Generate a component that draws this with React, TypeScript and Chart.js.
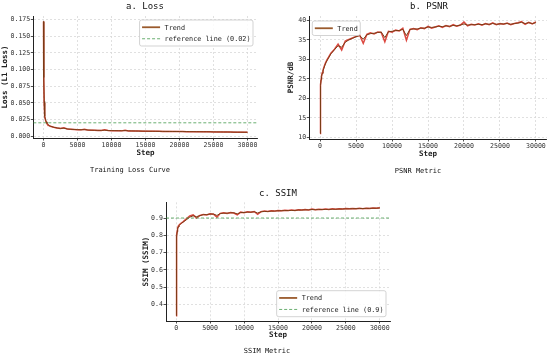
import React, { useEffect, useRef } from "react";
import { Chart, registerables } from "chart.js";

Chart.register(...registerables);

// ---------- data ----------
const STEPS = [0, 25, 50, 100, 150, 200, 300, 400, 500, 650, 800, 1000,
  1500, 2000, 2500, 3000, 3500, 4000, 4500, 5000, 5500, 6000,
  6500, 7000, 7500, 8000, 8500, 9000, 9500, 10000, 10500, 11000,
  11500, 12000, 12500, 13000, 13500, 14000, 14500, 15000, 15500, 16000,
  16500, 17000, 17500, 18000, 18500, 19000, 19500, 20000, 20500, 21000,
  21500, 22000, 22500, 23000, 23500, 24000, 24500, 25000, 25500, 26000,
  26500, 27000, 27500, 28000, 28500, 29000, 29500, 30000];

const LOSS_RAW = [0.172, 0.125, 0.085, 0.05, 0.036, 0.029, 0.024, 0.021, 0.019, 0.017, 0.0158, 0.0148,
  0.0132, 0.0122, 0.0114, 0.0125, 0.0106, 0.0102, 0.0099, 0.0096, 0.0094, 0.0103,
  0.0091, 0.0089, 0.0088, 0.0086, 0.0085, 0.0094, 0.0083, 0.0082, 0.0081, 0.0080,
  0.0079, 0.0089, 0.0078, 0.0077, 0.0076, 0.0076, 0.0075, 0.0074, 0.0074, 0.0073,
  0.0072, 0.0072, 0.0071, 0.0071, 0.0070, 0.0070, 0.0069, 0.0068, 0.0068, 0.0067,
  0.0067, 0.0066, 0.0066, 0.0065, 0.0065, 0.0064, 0.0064, 0.0063, 0.0063, 0.0062,
  0.0062, 0.0061, 0.0061, 0.0060, 0.0060, 0.0059, 0.0059, 0.0058];
const LOSS_TREND = [0.172, 0.128, 0.088, 0.052, 0.037, 0.030, 0.0245, 0.0215, 0.0195, 0.0175, 0.016, 0.015,
  0.0133, 0.0123, 0.0116, 0.0119, 0.0108, 0.0103, 0.0100, 0.0097, 0.0095, 0.0098,
  0.0092, 0.0090, 0.0088, 0.0087, 0.0086, 0.0089, 0.0084, 0.0083, 0.0082, 0.0081,
  0.0080, 0.0084, 0.0079, 0.0078, 0.0077, 0.0076, 0.0076, 0.0075, 0.0074, 0.0074,
  0.0073, 0.0072, 0.0072, 0.0071, 0.0071, 0.0070, 0.0070, 0.0069, 0.0068, 0.0068,
  0.0067, 0.0067, 0.0066, 0.0066, 0.0065, 0.0065, 0.0064, 0.0064, 0.0063, 0.0063,
  0.0062, 0.0062, 0.0061, 0.0061, 0.0060, 0.0060, 0.0059, 0.0059];

const PSNR_RAW = [11.0, 16.0, 20.0, 23.5, 25.0, 25.8, 26.6, 27.2, 27.8, 28.6, 29.3, 30.0,
  31.6, 32.6, 33.9, 32.4, 34.7, 35.1, 35.5, 35.9, 36.2, 34.1,
  36.4, 36.8, 36.5, 37.0, 36.9, 34.5, 37.2, 37.0, 37.5, 37.3,
  38.0, 34.9, 37.7, 37.9, 37.6, 38.1, 37.9, 38.5, 38.0, 38.3,
  38.6, 38.2, 38.7, 38.4, 38.9, 38.5, 38.8, 39.6, 38.6, 39.0,
  38.8, 39.1, 38.8, 39.2, 38.9, 39.4, 38.9, 39.2, 39.0, 39.3,
  38.9, 39.2, 39.4, 39.7, 39.0, 39.5, 39.1, 39.6];
const PSNR_TREND = [11.0, 15.8, 19.8, 23.3, 24.8, 25.6, 26.4, 27.0, 27.6, 28.4, 29.1, 29.8,
  31.4, 32.5, 33.5, 33.1, 34.4, 35.0, 35.4, 35.8, 36.1, 35.2,
  36.3, 36.6, 36.7, 36.9, 37.0, 35.6, 37.1, 37.2, 37.4, 37.4,
  37.7, 36.1, 37.7, 37.8, 37.8, 38.0, 38.0, 38.3, 38.2, 38.3,
  38.5, 38.4, 38.6, 38.5, 38.7, 38.6, 38.8, 39.1, 38.8, 38.9,
  38.9, 39.0, 38.9, 39.1, 39.0, 39.2, 39.0, 39.1, 39.1, 39.2,
  39.0, 39.2, 39.3, 39.5, 39.2, 39.4, 39.2, 39.4];

const SSIM_RAW = [0.335, 0.60, 0.74, 0.80, 0.825, 0.84, 0.852, 0.858, 0.862, 0.868, 0.872, 0.878,
  0.895, 0.912, 0.918, 0.900, 0.915, 0.921, 0.918, 0.925, 0.922, 0.905,
  0.927, 0.930, 0.926, 0.932, 0.929, 0.918, 0.934, 0.931, 0.936, 0.933,
  0.938, 0.922, 0.937, 0.940, 0.938, 0.942, 0.940, 0.944, 0.942, 0.945,
  0.943, 0.946, 0.944, 0.948, 0.946, 0.949, 0.947, 0.952, 0.948, 0.951,
  0.949, 0.952, 0.950, 0.953, 0.951, 0.954, 0.952, 0.955, 0.953, 0.955,
  0.953, 0.956, 0.954, 0.957, 0.955, 0.958, 0.956, 0.959];
const SSIM_TREND = [0.335, 0.58, 0.72, 0.79, 0.82, 0.835, 0.848, 0.855, 0.86, 0.866, 0.87, 0.876,
  0.890, 0.905, 0.913, 0.908, 0.914, 0.919, 0.920, 0.923, 0.923, 0.915,
  0.926, 0.928, 0.928, 0.930, 0.930, 0.924, 0.932, 0.932, 0.934, 0.934,
  0.936, 0.929, 0.936, 0.938, 0.938, 0.940, 0.940, 0.942, 0.942, 0.943,
  0.943, 0.944, 0.944, 0.946, 0.946, 0.947, 0.947, 0.949, 0.948, 0.949,
  0.949, 0.950, 0.950, 0.951, 0.951, 0.952, 0.952, 0.953, 0.953, 0.954,
  0.954, 0.955, 0.955, 0.956, 0.956, 0.957, 0.957, 0.958];

const X_TICKS = [0, 5000, 10000, 15000, 20000, 25000, 30000];
const LOSS_TICKS = [0, 0.025, 0.05, 0.075, 0.1, 0.125, 0.15, 0.175];
const PSNR_TICKS = [10, 15, 20, 25, 30, 35, 40];
const SSIM_TICKS = [0.4, 0.5, 0.6, 0.7, 0.8, 0.9];
const LOSS_REF = 0.02;
const SSIM_REF = 0.9;
const X_MIN = -1500;
const X_MAX = 31500;

// ---------- styles ----------
const MONO = '"DejaVu Sans Mono", "Liberation Mono", monospace';
const RAW_COLOR = "rgba(214,40,30,0.85)";
const TREND_COLOR = "#7a3d16";
const REF_COLOR = "rgba(60,150,70,0.85)";
const GRID_COLOR = "#d9d9d9";
const AXIS_COLOR = "#222";
const TEXT_COLOR = "#222";
const FIG_W = 550;
const FIG_H = 356;
const AXIS_TITLE_SIZE = 7.5;
const TICK_SIZE = 6.6;

const PANELS: any[] = [
  {
    id: "loss", title: "a. Loss", caption: "Training Loss Curve",
    titleAt: [145, 6], captionAt: [130, 170],
    area: { left: 33.3, top: 16, right: 257.7, bottom: 138 },
    yLabel: "Loss (L1 Loss)", yLabelX: 4.8, xLabelY: 152.7,
    yRange: [-0.0028, 0.1803], yTicks: LOSS_TICKS, yDigits: 3,
    raw: LOSS_RAW, trend: LOSS_TREND, ref: LOSS_REF, refLabel: "reference line (0.02)",
    legend: { corner: "ur", dx: 4.7, dy: 4 },
  },
  {
    id: "psnr", title: "b. PSNR", caption: "PSNR Metric",
    titleAt: [429, 6], captionAt: [418, 171],
    area: { left: 309.3, top: 16, right: 546.7, bottom: 139 },
    yLabel: "PSNR/dB", yLabelX: 291.2, xLabelY: 154,
    yRange: [9.57, 41.13], yTicks: PSNR_TICKS, yDigits: 0,
    raw: PSNR_RAW, trend: PSNR_TREND, ref: null, refLabel: "",
    legend: { corner: "ul", dx: 3, dy: 5 },
  },
  {
    id: "ssim", title: "c. SSIM", caption: "SSIM Metric",
    titleAt: [278, 193], captionAt: [267, 351],
    area: { left: 166, top: 202.3, right: 390, bottom: 321 },
    yLabel: "SSIM (SSIM)", yLabelX: 145.8, xLabelY: 335,
    yRange: [0.304, 0.991], yTicks: SSIM_TICKS, yDigits: 1,
    raw: SSIM_RAW, trend: SSIM_TREND, ref: SSIM_REF, refLabel: "reference line (0.9)",
    legend: { corner: "lr", dx: 4, dy: 4.3 },
  },
];

// ---------- matplotlib-like boxed legend inside the axes ----------
const boxLegend = {
  id: "boxLegend",
  afterDatasetsDraw(chart: any, _args: any, opts: any) {
    const { ctx, chartArea } = chart;
    const items = chart.data.datasets.filter((d: any) => d.showInLegend);
    if (!items.length) return;
    ctx.save();
    ctx.font = `6.8px ${MONO}`;
    const lineLen = 18, gap = 4.5, padX = 2.5, padY = 1.5, rowH = 11.5;
    const textW = Math.max(...items.map((d: any) => ctx.measureText(d.label).width));
    const w = padX + lineLen + gap + textW + padX;
    const h = padY * 2 + rowH * items.length;
    let x = chartArea.left + opts.dx;
    let y = chartArea.top + opts.dy;
    if (opts.corner === "ur" || opts.corner === "lr") x = chartArea.right - opts.dx - w;
    if (opts.corner === "lr" || opts.corner === "ll") y = chartArea.bottom - opts.dy - h;
    ctx.beginPath();
    if (ctx.roundRect) ctx.roundRect(x, y, w, h, 2);
    else ctx.rect(x, y, w, h);
    ctx.fillStyle = "rgba(255,255,255,0.85)";
    ctx.fill();
    ctx.lineWidth = 0.8;
    ctx.strokeStyle = "#c8c8c8";
    ctx.stroke();
    items.forEach((d: any, i: number) => {
      const cy = y + padY + rowH * (i + 0.5);
      ctx.beginPath();
      ctx.setLineDash(d.borderDash || []);
      ctx.strokeStyle = d.legendColor || d.borderColor;
      ctx.lineWidth = d.legendWidth || d.borderWidth;
      ctx.moveTo(x + padX, cy);
      ctx.lineTo(x + padX + lineLen, cy);
      ctx.stroke();
      ctx.setLineDash([]);
      ctx.fillStyle = TEXT_COLOR;
      ctx.textBaseline = "middle";
      ctx.textAlign = "left";
      ctx.fillText(d.label, x + padX + lineLen + gap, cy + 0.5);
    });
    ctx.restore();
  },
};

function PanelChart({ p }: { p: any }) {
  const ref = useRef<HTMLCanvasElement>(null);
  useEffect(() => {
    if (!ref.current) return;
    const axisFont = { family: MONO, size: AXIS_TITLE_SIZE, weight: "bold" as const, lineHeight: 1.2 };
    const lh = AXIS_TITLE_SIZE * 1.2;
    const scaleLeft = p.yLabelX - lh / 2;
    const yAxisW = p.area.left - scaleLeft;
    const xAxisH = p.xLabelY + lh / 2 - p.area.bottom;
    const pts = (vals: number[]) => STEPS.map((s, i) => ({ x: s, y: vals[i] }));
    const datasets: any[] = [
      {
        label: "raw", data: pts(p.raw), borderColor: RAW_COLOR, borderWidth: 1.5,
        pointRadius: 0, showInLegend: false, order: 3,
      },
      {
        label: "Trend", data: pts(p.trend), borderColor: TREND_COLOR, borderWidth: 1,
        pointRadius: 0, showInLegend: true, legendWidth: 1.8, legendColor: "#9a5a2c", order: 2,
      },
    ];
    if (p.ref != null) {
      datasets.push({
        label: p.refLabel, data: [{ x: X_MIN, y: p.ref }, { x: X_MAX, y: p.ref }],
        borderColor: REF_COLOR, borderDash: [3, 2], borderWidth: 0.9,
        pointRadius: 0, showInLegend: true, order: 1,
      });
    }
    const tickFont = { family: MONO, size: TICK_SIZE };
    const chart = new Chart(ref.current, {
      type: "line",
      data: { datasets },
      plugins: [boxLegend],
      options: {
        animation: false,
        responsive: false,
        maintainAspectRatio: false,
        devicePixelRatio: 1,
        events: [],
        layout: {
          padding: {
            left: scaleLeft,
            top: p.area.top,
            right: FIG_W - p.area.right,
            bottom: FIG_H - (p.area.bottom + xAxisH),
          },
        },
        elements: { line: { tension: 0 } },
        plugins: {
          legend: { display: false },
          tooltip: { enabled: false },
          title: { display: false },
          boxLegend: p.legend,
        } as any,
        scales: {
          x: {
            type: "linear",
            bounds: "data",
            min: X_MIN,
            max: X_MAX,
            afterBuildTicks: (s: any) => { s.ticks = X_TICKS.map((v) => ({ value: v })); },
            afterFit: (s: any) => { s.height = xAxisH; },
            ticks: {
              font: tickFont, color: "#333", padding: 0.5, maxRotation: 0, autoSkip: false,
              callback: (v: any) => String(v),
            },
            grid: { color: GRID_COLOR, lineWidth: 0.8, tickLength: 2.5, tickColor: AXIS_COLOR, tickWidth: 0.8 },
            border: { color: AXIS_COLOR, width: 1, dash: [2, 2] },
            title: { display: true, text: "Step", font: axisFont, color: TEXT_COLOR, padding: 0 },
          },
          y: {
            type: "linear",
            bounds: "data",
            min: p.yRange[0],
            max: p.yRange[1],
            afterBuildTicks: (s: any) => { s.ticks = p.yTicks.map((v: number) => ({ value: v })); },
            afterFit: (s: any) => { s.width = yAxisW; },
            ticks: {
              font: tickFont, color: "#333", padding: 0.5, autoSkip: false,
              callback: (v: any) => Number(v).toFixed(p.yDigits),
            },
            grid: { color: GRID_COLOR, lineWidth: 0.8, tickLength: 2.5, tickColor: AXIS_COLOR, tickWidth: 0.8 },
            border: { color: AXIS_COLOR, width: 1, dash: [2, 2] },
            title: { display: true, text: p.yLabel, font: axisFont, color: TEXT_COLOR, padding: 0 },
          },
        },
      } as any,
    });
    return () => chart.destroy();
  }, [p]);
  return (
    <canvas
      ref={ref}
      width={FIG_W}
      height={FIG_H}
      style={{ position: "absolute", left: 0, top: 0, width: FIG_W, height: FIG_H }}
    />
  );
}

export default function App() {
  return (
    <div
      style={{
        position: "fixed", left: 0, top: 0, width: FIG_W, height: FIG_H,
        background: "#fff", overflow: "hidden",
      }}
    >
      {PANELS.map((p) => (
        <PanelChart key={p.id} p={p} />
      ))}
      {PANELS.map((p) => (
        <React.Fragment key={p.id + "-text"}>
          <div
            style={{
              position: "absolute", left: p.titleAt[0], top: p.titleAt[1],
              transform: "translate(-50%, -50%)", font: `9px ${MONO}`,
              whiteSpace: "pre", color: "#111", lineHeight: 1,
            }}
          >
            {p.title}
          </div>
          <div
            style={{
              position: "absolute", left: p.captionAt[0], top: p.captionAt[1],
              transform: "translate(-50%, -50%)", font: `7px ${MONO}`,
              whiteSpace: "pre", color: "#111", lineHeight: 1,
            }}
          >
            {p.caption}
          </div>
        </React.Fragment>
      ))}
    </div>
  );
}
